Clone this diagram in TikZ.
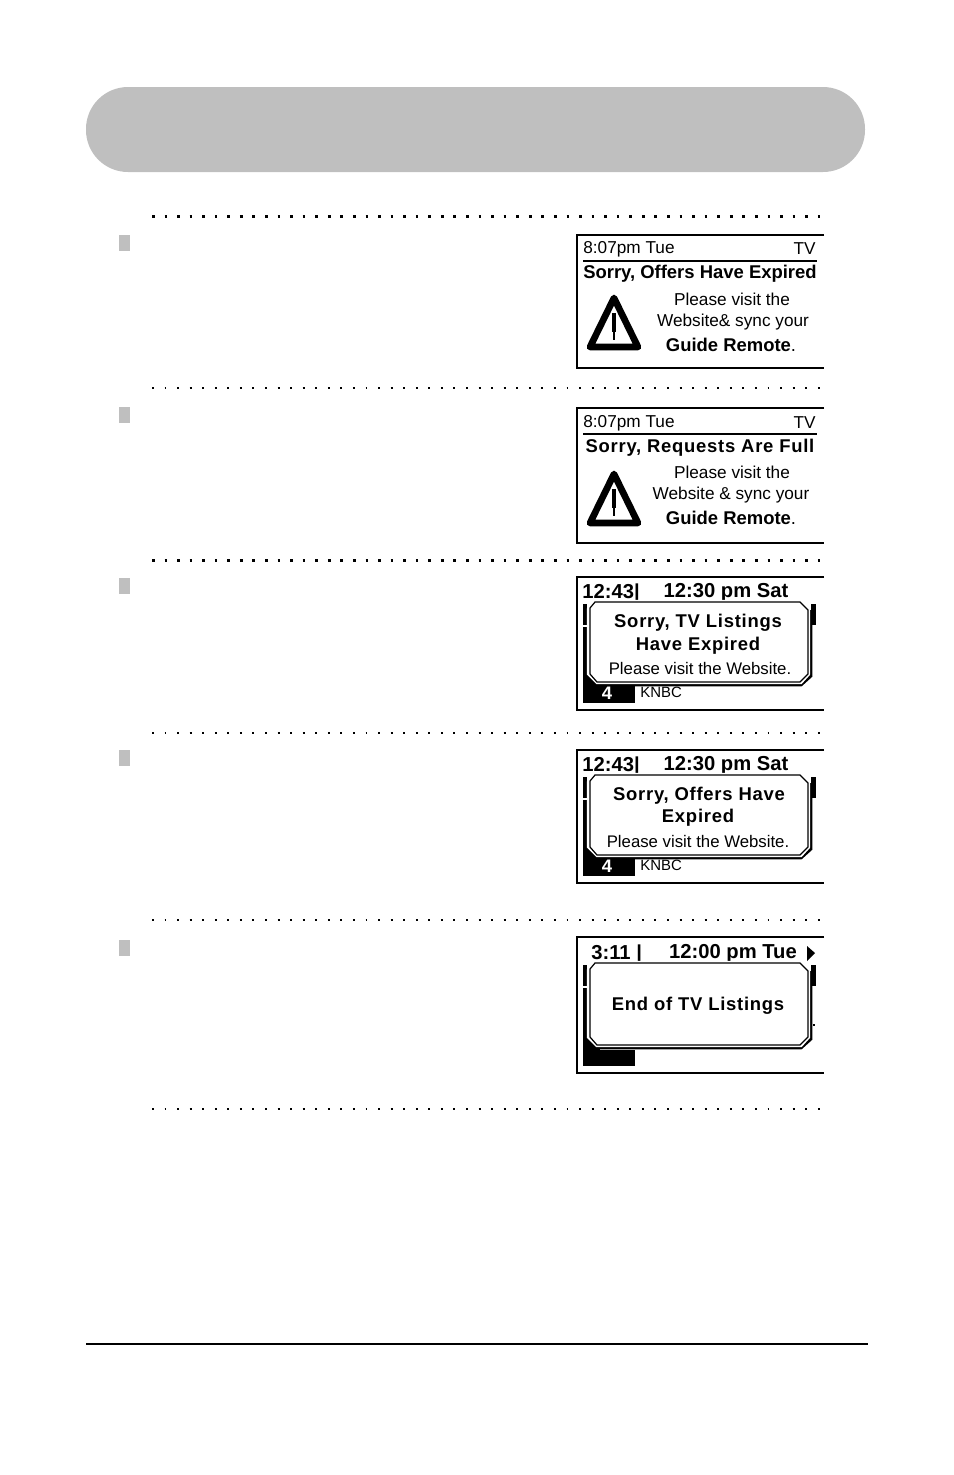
\documentclass[tikz,border=0pt]{standalone}
\usepackage{fontspec}
\setmainfont{Liberation Sans}
\newfontfamily\widefont[LetterSpace=4]{Liberation Sans}
\tikzset{
  headbar/.style={fill=gray!50!white,draw=none,rounded corners=0.84cm},
  dotrule/.style={line width=1.7pt,dash pattern=on 1.5pt off 5.65pt},
  dotrulethin/.style={line width=1.1pt,dash pattern=on 1.1pt off 6.05pt},
  bullet/.style={fill=gray!50!white,draw=none},
  screenframe/.style={line width=0.8pt},
  plain/.style={font=\fontsize{9.8}{12}\selectfont,inner sep=0pt},
  narrow/.style={font=\fontsize{9.55}{12}\selectfont,inner sep=0pt},
  heavy/.style={font=\fontsize{10.5}{12}\bfseries\selectfont,inner sep=0pt},
  heavywide/.style={font=\fontsize{10.5}{12}\widefont\bfseries\selectfont,inner sep=0pt},
  clock/.style={font=\fontsize{11.5}{12}\bfseries\selectfont,inner sep=0pt},
  small/.style={font=\fontsize{8.5}{10}\selectfont,inner sep=0pt},
}
%warning triangle, #1 is the top of its screen
\newcommand{\warnsign}[1]{
  \draw[line width=3.8pt,line join=round,shift={(0,#1)}] (614,63) -- (638,112) -- (590,112) -- cycle;
  \draw[line width=2.3pt,shift={(0,#1)}] (614,78) -- (614,97);
  \draw[line width=0.8pt,shift={(0,#1)}] (614,97) -- (614,105);
}
%popup over the guide grid, #1 top of screen, #2 top of popup, #3 bottom of popup
\newcommand{\popupbox}[3]{
  \begin{scope}[shift={(0,#1)}]
    \fill (583,#2+2) rectangle (587,#3+4);
    \fill (583,#3-10) rectangle (600,#3+4);
    \draw[white,line width=1pt] (583,#2+24) -- (587,#2+24);
    \fill (811,#2+2) rectangle (816,#2+23);
    \draw[line width=1.6pt] (811,#2+8) -- (811,#3-7) -- (801,#3+2) -- (600,#3+2);
    \draw[fill=white,draw=white,line width=1.4pt] (593,#2-1) -- (801,#2-1) -- (809,#2+7) -- (809,#3-9) -- (801,#3) -- (597,#3) -- (588,#3-9) -- (588,#2+7) -- cycle;
    \draw[line width=0.7pt] (595,#2) -- (800,#2) -- (808,#2+8) -- (808,#3-9) -- (800,#3-1) -- (597,#3-1) -- (590,#3-9) -- (590,#2+6) -- cycle;
  \end{scope}
}
\begin{document}
\begin{tikzpicture}[x=0.02cm,y=-0.02cm]
  \useasboundingbox (0,0) rectangle (954,1475);
  \fill[headbar] (86,87) rectangle (865,172);
  %dotted rules
  \draw[dotrule] (152,216)--(824,216);
  \draw[dotrulethin] (152,388)--(824,388);
  \draw[dotrule] (152,560)--(824,560);
  \draw[dotrulethin] (152,733)--(824,733);
  \draw[dotrulethin] (152,920)--(824,920);
  \draw[dotrulethin] (152,1109)--(824,1109);
  \draw[line width=0.85pt] (86,1344)--(868,1344);
  %bullets
  \fill[bullet] (119,235) rectangle (130,251);
  \fill[bullet] (119,407) rectangle (130,423);
  \fill[bullet] (119,578) rectangle (130,594);
  \fill[bullet] (119,750) rectangle (130,766);
  \fill[bullet] (119,940) rectangle (130,956);
  %screen 1
  \draw[screenframe] (824,235)--(577,235)--(577,368)--(824,368);
  \draw[line width=0.7pt] (583,261)--(817,261);
  \node (time1) at (583,249) [plain,anchor=west] {8:07pm Tue};
  \node (mode1) at (816,249) [plain,anchor=east] {TV};
  \node (title1) at (700,274) [heavy] {Sorry, Offers Have Expired};
  \node (msg1a) at (732,299) [plain] {Please visit the};
  \node (msg1b) at (733,322) [plain] {Website\& sync your};
  \node (msg1c) at (731,345) [heavy] {Guide Remote{\mdseries .}};
  \warnsign{235}
  %screen 2
  \draw[screenframe] (824,408)--(577,408)--(577,543)--(824,543);
  \draw[line width=0.7pt] (583,434)--(817,434);
  \node (time2) at (583,423) [plain,anchor=west] {8:07pm Tue};
  \node (mode2) at (816,423) [plain,anchor=east] {TV};
  \node (title2) at (700,448) [heavywide] {Sorry, Requests Are Full};
  \node (msg2a) at (732,472) [plain] {Please visit the};
  \node (msg2b) at (731,495) [plain] {Website \& sync your};
  \node (msg2c) at (731,518) [heavy] {Guide Remote{\mdseries .}};
  \warnsign{411}
  %screen 3
  \draw[screenframe] (824,577)--(577,577)--(577,710)--(824,710);
  \node (time3) at (582,593) [clock,anchor=west] {12:43|};
  \node (date3) at (726,593) [clock] {12:30 pm Sat};
  \fill (583,683) rectangle (635,703);
  \node (chan3) at (607,693) [heavy,text=white] {4};
  \node (call3) at (640,692) [small,anchor=west] {KNBC};
  \popupbox{577}{25}{106}
  \node (title3a) at (698,623) [heavywide] {Sorry, TV Listings};
  \node (title3b) at (698,646) [heavywide] {Have Expired};
  \node (msg3) at (700,668) [narrow] {Please visit the Website.};
  %screen 4
  \draw[screenframe] (824,750)--(577,750)--(577,883)--(824,883);
  \node (time4) at (582,766) [clock,anchor=west] {12:43|};
  \node (date4) at (726,766) [clock] {12:30 pm Sat};
  \fill (583,856) rectangle (635,876);
  \node (chan4) at (607,866) [heavy,text=white] {4};
  \node (call4) at (640,865) [small,anchor=west] {KNBC};
  \popupbox{750}{25}{106}
  \node (title4a) at (699,796) [heavywide] {Sorry, Offers Have};
  \node (title4b) at (698,818) [heavywide] {Expired};
  \node (msg4) at (698,841) [narrow] {Please visit the Website.};
  %screen 5
  \draw[screenframe] (824,937)--(577,937)--(577,1073)--(824,1073);
  \node (time5) at (591,954) [clock,anchor=west] {3:11 |};
  \node (date5) at (733,954) [clock] {12:00 pm Tue};
  \fill (807,946) -- (815,953) -- (807,961) -- cycle;
  \fill (813,1024) rectangle (815,1026);
  \fill (583,1050) rectangle (635,1066);
  \popupbox{937}{26}{109}
  \node (title5) at (698,1006) [heavywide] {End of TV Listings};
\end{tikzpicture}
\end{document}
